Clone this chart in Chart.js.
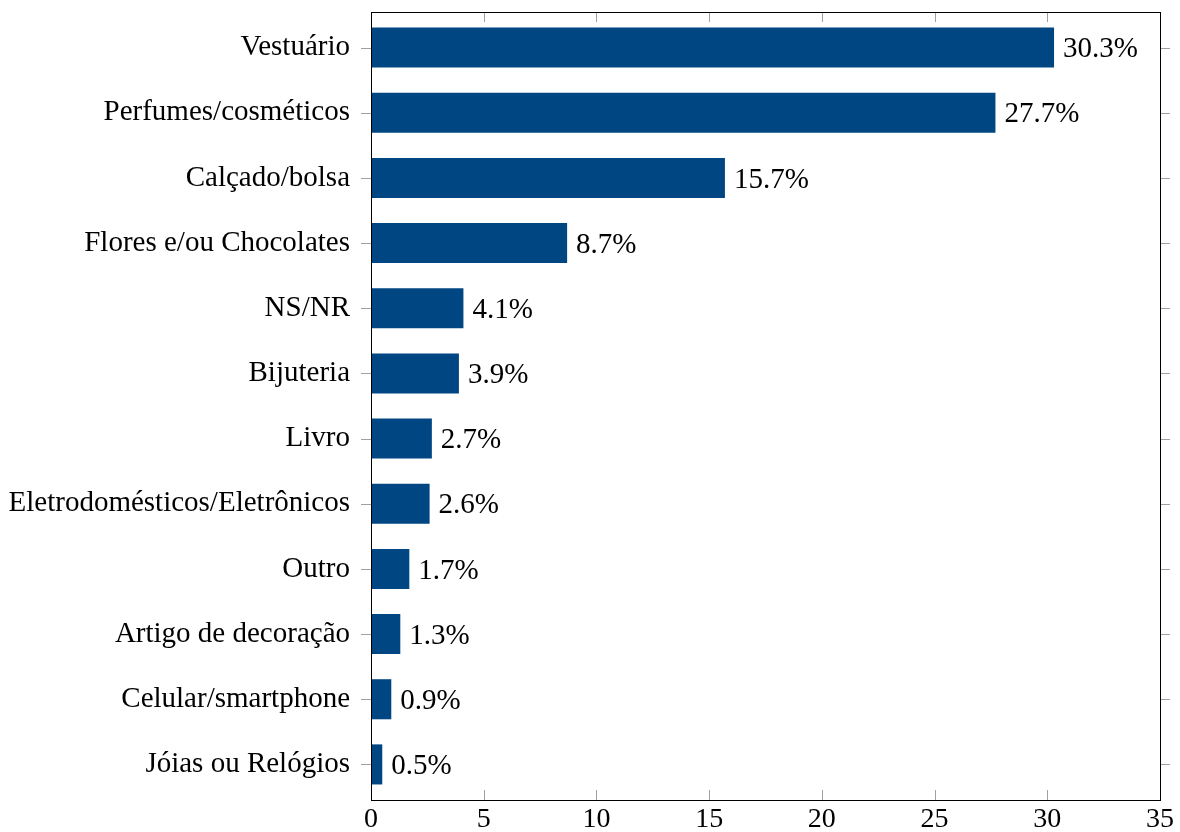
<!DOCTYPE html>
<html>
<head>
<meta charset="utf-8">
<script src="https://cdn.jsdelivr.net/npm/chart.js@4"></script>
<style>
html,body{margin:0;padding:0;background:#fff;}
#wrap{width:1180px;height:832px;}
</style>
</head>
<body>
<div id="wrap"><canvas id="c" width="1180" height="832"></canvas></div>
<script>
const categories = [
  "Vestuário",
  "Perfumes/cosméticos",
  "Calçado/bolsa",
  "Flores e/ou Chocolates",
  "NS/NR",
  "Bijuteria",
  "Livro",
  "Eletrodomésticos/Eletrônicos",
  "Outro",
  "Artigo de decoração",
  "Celular/smartphone",
  "Jóias ou Relógios"
];
const values = [30.3, 27.7, 15.7, 8.7, 4.1, 3.9, 2.7, 2.6, 1.7, 1.3, 0.9, 0.5];
const xTicks = [0, 5, 10, 15, 20, 25, 30, 35];

const FONT = "'Liberation Serif', 'Times New Roman', serif";
const EXTRA = 3; // extra frame margin beyond the category band

const framePlugin = {
  id: 'frame',
  afterDraw(chart) {
    const ctx = chart.ctx;
    const a = chart.chartArea;
    const top = a.top - EXTRA, bottom = a.bottom + EXTRA;
    const xs = chart.scales.x;
    const ys = chart.scales.y;
    ctx.save();
    ctx.strokeStyle = '#a0a0a0';
    ctx.lineWidth = 1;
    xTicks.forEach(v => {
      const px = Math.round(xs.getPixelForValue(v)) + 0.5;
      ctx.beginPath();
      ctx.moveTo(px, bottom); ctx.lineTo(px, bottom - 10);
      ctx.moveTo(px, top); ctx.lineTo(px, top + 10);
      ctx.stroke();
    });
    categories.forEach((c, i) => {
      const py = Math.round(ys.getPixelForValue(i)) + 0.5;
      ctx.beginPath();
      ctx.moveTo(a.left, py); ctx.lineTo(a.left - 10, py);
      ctx.moveTo(a.right, py); ctx.lineTo(a.right + 10, py);
      ctx.stroke();
    });
    ctx.strokeStyle = '#000';
    ctx.lineWidth = 1;
    ctx.strokeRect(Math.round(a.left) + 0.5, Math.round(top) + 0.5,
                   Math.round(a.right - a.left), Math.round(bottom - top));
    ctx.fillStyle = '#000';
    ctx.font = '29px ' + FONT;
    ctx.textBaseline = 'middle';
    ctx.textAlign = 'left';
    const meta = chart.getDatasetMeta(0);
    meta.data.forEach((bar, i) => {
      ctx.fillText(values[i].toFixed(1) + '%', bar.x + 9, bar.y + 2);
    });
    ctx.restore();
  }
};

new Chart(document.getElementById('c'), {
  type: 'bar',
  data: {
    labels: categories,
    datasets: [{
      data: values,
      backgroundColor: '#004682',
      borderWidth: 0,
      barPercentage: 0.615,
      categoryPercentage: 1.0
    }]
  },
  options: {
    indexAxis: 'y',
    responsive: false,
    animation: false,
    layout: { padding: { top: 12 + EXTRA, right: 20, left: 0, bottom: 0 } },
    plugins: { legend: { display: false }, tooltip: { enabled: false } },
    scales: {
      x: {
        min: 0, max: 35,
        afterBuildTicks(s) { s.ticks = xTicks.map(v => ({ value: v })); },
        grid: { display: false, drawTicks: false },
        border: { display: false },
        ticks: { color: '#000', font: { family: FONT, size: 28 }, padding: 3 + EXTRA, maxRotation: 0 },
        afterFit(s) { s.height = 32 + EXTRA; s.paddingLeft = 0; s.paddingRight = 0; }
      },
      y: {
        grid: { display: false, drawTicks: false },
        border: { display: false },
        ticks: { color: '#000', font: { family: FONT, size: 29 }, padding: 21, autoSkip: false },
        afterFit(s) { s.width = 371; s.paddingTop = 0; s.paddingBottom = 0; }
      }
    }
  },
  plugins: [framePlugin]
});
</script>
</body>
</html>
